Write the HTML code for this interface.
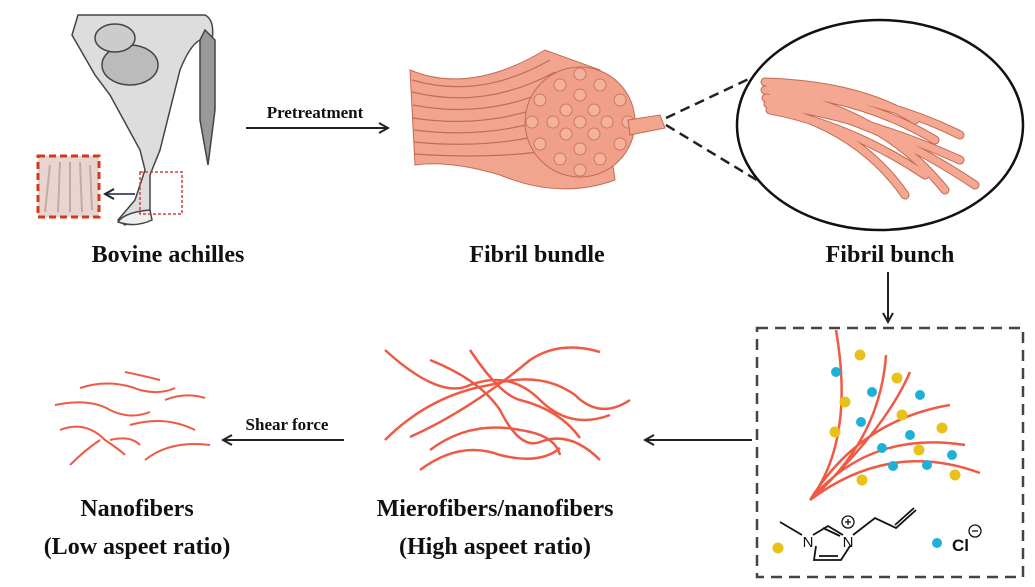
<!DOCTYPE html>
<html><head><meta charset="utf-8"><style>
html,body{margin:0;padding:0;background:#fff;width:1035px;height:587px;overflow:hidden}
svg{display:block}
.l{font-family:"Liberation Serif",serif;font-weight:bold;font-size:24px;fill:#111;text-anchor:middle}
.s{font-family:"Liberation Serif",serif;font-weight:bold;font-size:17px;fill:#111;text-anchor:middle}
</style></head><body>
<svg width="1035" height="587" viewBox="0 0 1035 587">
<defs>
<marker id="a" markerWidth="12" markerHeight="12" refX="10" refY="6" orient="auto" markerUnits="userSpaceOnUse"><path d="M1,1 L10,6 L1,11" fill="none" stroke="#222" stroke-width="2"/></marker>
</defs>
<!-- leg -->
<g fill="#ddd" stroke="#444" stroke-width="1.5">
<path d="M78,15 L205,15 Q215,20 212,40 L200,40 Q190,45 180,70 L160,150 L150,175 L150,210 L125,225 L118,220 L135,200 L145,170 L140,150 L110,95 L95,75 L72,35 Z"/>
<ellipse cx="130" cy="65" rx="28" ry="20" fill="#bbb"/>
<ellipse cx="115" cy="38" rx="20" ry="14" fill="#ccc"/>
<path d="M205,30 L215,40 L215,110 L208,165 L200,120 L200,40Z" fill="#999"/>
<path d="M118,222 Q125,212 150,210 L152,220 Q135,228 118,222Z" fill="#eee"/>
</g>
<rect x="140" y="172" width="42" height="42" fill="none" stroke="#c44" stroke-width="1.5" stroke-dasharray="3,2"/>
<rect x="38" y="156" width="61" height="61" fill="#e9d5d0" stroke="#d43a1a" stroke-width="3" stroke-dasharray="7,4"/>
<g stroke="#c9a8a4" stroke-width="2"><path d="M50,165 L45,212 M60,162 L58,212 M70,162 L70,212 M80,162 L82,212 M90,165 L92,210"/></g>
<line x1="135" y1="194" x2="105" y2="194" stroke="#557" stroke-width="2" marker-end="url(#a)"/>
<text class="l" x="168" y="262">Bovine achilles</text>
<!-- pretreatment -->
<text class="s" x="315" y="118">Pretreatment</text>
<line x1="246" y1="128" x2="388" y2="128" stroke="#222" stroke-width="2" marker-end="url(#a)"/>
<!-- fibril bundle -->
<g stroke="#c46a55" stroke-width="1" fill="#f2a58e">
<path d="M410,70 Q470,95 545,50 L600,70 L615,180 Q560,200 500,175 Q450,160 415,165 Z"/>
</g>
<g stroke="#c46a55" stroke-width="1.2" fill="none">
<path d="M412,80 Q480,100 550,60 M412,92 Q485,110 555,72 M413,105 Q490,120 560,85 M413,118 Q490,130 560,100 M414,130 Q490,140 560,115 M414,142 Q495,150 560,130 M415,154 Q500,160 565,148"/>
</g>
<circle cx="580" cy="122" r="55" fill="#f0a088" stroke="#c46a55"/>
<g fill="#f4b19c" stroke="#c46a55" stroke-width="0.8">
<circle cx="580" cy="122" r="6"/><circle cx="566" cy="110" r="6"/><circle cx="594" cy="110" r="6"/><circle cx="566" cy="134" r="6"/><circle cx="594" cy="134" r="6"/>
<circle cx="580" cy="95" r="6"/><circle cx="580" cy="149" r="6"/><circle cx="553" cy="122" r="6"/><circle cx="607" cy="122" r="6"/>
<circle cx="560" cy="85" r="6"/><circle cx="600" cy="85" r="6"/><circle cx="560" cy="159" r="6"/><circle cx="600" cy="159" r="6"/>
<circle cx="540" cy="100" r="6"/><circle cx="620" cy="100" r="6"/><circle cx="540" cy="144" r="6"/><circle cx="620" cy="144" r="6"/>
<circle cx="580" cy="74" r="6"/><circle cx="580" cy="170" r="6"/><circle cx="532" cy="122" r="6"/><circle cx="628" cy="122" r="6"/>
</g>
<path d="M628,120 L660,115 L665,128 L630,135Z" fill="#f2a58e" stroke="#c46a55"/>
<text class="l" x="537" y="262">Fibril bundle</text>
<!-- zoom -->
<line x1="666" y1="118" x2="772" y2="68" stroke="#222" stroke-width="2.5" stroke-dasharray="10,6"/>
<line x1="666" y1="125" x2="760" y2="182" stroke="#222" stroke-width="2.5" stroke-dasharray="10,6"/>
<ellipse cx="880" cy="125" rx="143" ry="105" fill="#fff" stroke="#111" stroke-width="2.5"/>
<g stroke="#c46a55" stroke-width="9" stroke-linecap="round" fill="none">
<path d="M765,82 Q860,85 915,120 M765,90 Q860,95 935,140 M766,98 Q850,105 905,150 M768,104 Q860,115 960,160 M770,110 Q850,125 925,175 M772,100 Q870,115 975,185 M772,92 Q880,110 945,190 M770,86 Q880,95 960,135 M774,108 Q860,130 905,195"/>
</g>
<g stroke="#f4a891" stroke-width="7" stroke-linecap="round" fill="none">
<path d="M765,82 Q860,85 915,120 M765,90 Q860,95 935,140 M766,98 Q850,105 905,150 M768,104 Q860,115 960,160 M770,110 Q850,125 925,175 M772,100 Q870,115 975,185 M772,92 Q880,110 945,190 M770,86 Q880,95 960,135 M774,108 Q860,130 905,195"/>
</g>
<text class="l" x="890" y="262">Fibril bunch</text>
<line x1="888" y1="272" x2="888" y2="322" stroke="#222" stroke-width="2" marker-end="url(#a)"/>
<!-- box -->
<rect x="757" y="328" width="266" height="249" fill="none" stroke="#444" stroke-width="2.5" stroke-dasharray="11,7"/>
<g stroke="#ee5a44" stroke-width="2.5" fill="none">
<path d="M810,500 Q855,440 836,330 M810,500 Q880,440 886,355 M810,500 Q885,430 910,372 M810,500 Q860,420 950,405 M810,500 Q870,430 965,445 M810,500 Q890,440 980,473"/>
</g>
<g fill="#e8c21a"><circle cx="860" cy="355" r="5.5"/><circle cx="845" cy="402" r="5.5"/><circle cx="835" cy="432" r="5.5"/><circle cx="897" cy="378" r="5.5"/><circle cx="902" cy="415" r="5.5"/><circle cx="942" cy="428" r="5.5"/><circle cx="919" cy="450" r="5.5"/><circle cx="862" cy="480" r="5.5"/><circle cx="955" cy="475" r="5.5"/><circle cx="778" cy="548" r="5.5"/></g>
<g fill="#1fb0d8"><circle cx="836" cy="372" r="5"/><circle cx="872" cy="392" r="5"/><circle cx="861" cy="422" r="5"/><circle cx="920" cy="395" r="5"/><circle cx="910" cy="435" r="5"/><circle cx="882" cy="448" r="5"/><circle cx="893" cy="466" r="5"/><circle cx="927" cy="465" r="5"/><circle cx="952" cy="455" r="5"/><circle cx="937" cy="543" r="5"/></g>
<g stroke="#111" stroke-width="1.8" fill="none">
<path d="M780,522 L802,535 M813,535 L828,526 L843,535 M816,546 L814,560 L841,560 L850,546 M823,528 L840,536 M853,535 L875,518 L896,528 L916,510 M895,525 L914,508 M819,556 L838,556"/>
<circle cx="848" cy="522" r="6" stroke-width="1.3"/><path d="M845,522 h6 M848,519 v6" stroke-width="1.3"/>
<circle cx="975" cy="531" r="6" stroke-width="1.3"/><path d="M972,531 h6" stroke-width="1.3"/>
</g>
<text x="808" y="547" font-family="Liberation Sans,sans-serif" font-size="15" text-anchor="middle" fill="#111">N</text>
<text x="848" y="547" font-family="Liberation Sans,sans-serif" font-size="15" text-anchor="middle" fill="#111">N</text>
<text x="952" y="551" font-family="Liberation Sans,sans-serif" font-size="17" font-weight="bold" fill="#111">Cl</text>
<line x1="752" y1="440" x2="645" y2="440" stroke="#222" stroke-width="2" marker-end="url(#a)"/>
<!-- microfibers -->
<g stroke="#ee5a44" stroke-width="2.5" fill="none">
<path d="M385,350 Q440,400 470,385 Q510,370 540,400 Q570,430 610,415"/>
<path d="M385,440 Q430,395 490,385 Q540,370 575,395 Q600,420 630,400"/>
<path d="M410,437 Q470,410 530,360 Q560,340 600,352"/>
<path d="M430,360 Q480,380 500,410 Q520,450 540,442 Q570,430 600,460"/>
<path d="M470,350 Q500,395 520,400 Q560,410 580,438"/>
<path d="M430,450 Q470,420 520,430 Q555,435 560,455"/>
<path d="M420,470 Q460,440 500,455 Q540,465 560,448"/>
</g>
<text class="l" x="495" y="516">Mierofibers/nanofibers</text>
<text class="l" x="495" y="554">(High aspeet ratio)</text>
<text class="s" x="287" y="430">Shear force</text>
<line x1="344" y1="440" x2="223" y2="440" stroke="#222" stroke-width="2" marker-end="url(#a)"/>
<g stroke="#ee5a44" stroke-width="2" fill="none">
<path d="M80,388 Q110,378 140,390 Q160,395 175,388"/>
<path d="M125,372 Q140,375 160,380"/>
<path d="M55,405 Q90,398 110,410 Q130,420 150,412"/>
<path d="M165,400 Q185,392 205,398"/>
<path d="M60,430 Q85,420 105,440 Q120,450 125,455"/>
<path d="M130,425 Q165,415 195,430"/>
<path d="M145,460 Q170,440 210,445"/>
<path d="M70,465 Q85,450 100,440"/>
<path d="M110,440 Q130,435 140,445"/>
</g>
<text class="l" x="137" y="516">Nanofibers</text>
<text class="l" x="137" y="554">(Low aspeet ratio)</text>
</svg>
</body></html>
